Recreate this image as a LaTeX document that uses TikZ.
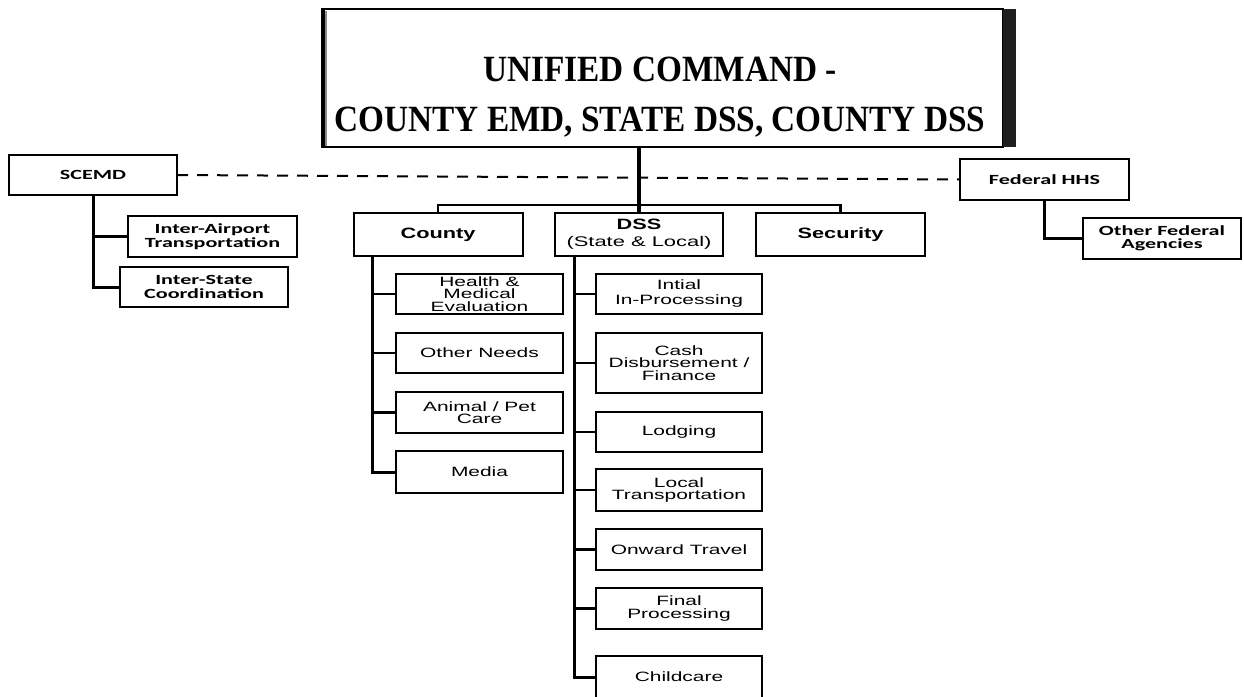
\documentclass[tikz,border=0pt]{standalone}
\usepackage{fontspec}
\usepackage{graphicx}
\setmainfont{Liberation Serif}
\newfontfamily\calfont{Carlito}
\newfontfamily\arialfont{Liberation Sans}
% centred stack of lines with a fixed baseline distance, stretched horizontally
\newcommand\stk[3]{\scalebox{#1}[1]{\vbox{\baselineskip=#2\relax\lineskiplimit=-100pt\relax\halign{\hfil##\hfil\cr#3\crcr}}}}
\begin{document}
\begin{tikzpicture}[x=1pt,y=-1pt,
  box/.style={draw, line width=2pt, rectangle, inner sep=0pt, outer sep=0pt, fill=white},
  agency/.style={box, font=\calfont\bfseries\fontsize{14}{14}\selectfont},
  branch/.style={box, minimum width=169pt, minimum height=43pt, font=\arialfont\bfseries\fontsize{15}{15}\selectfont},
  unit/.style={box, font=\arialfont\fontsize{13.5}{13.5}\selectfont},
  cunit/.style={unit, minimum width=167pt},
  dunit/.style={unit, minimum width=166pt},
  conn/.style={line width=2.4pt},
  spine/.style={line width=3pt},
  liaison/.style={line width=2pt, dash pattern=on 11pt off 9pt}
]
\fill[white] (0,0) rectangle (1244,696);
\useasboundingbox (0,0) rectangle (1244,696);

% unified command box with heavy edges
\node[box, line width=2.5pt, minimum width=681pt, minimum height=138pt] (top) at (662.5,78) {};
\fill[black!88] (1003,9) rectangle (1016,147);
\fill[black] (320.5,9) rectangle (324.5,147);
\fill[black!45] (324.5,10.5) rectangle (327,145.5);
\node[anchor=base, font=\bfseries\fontsize{37}{37}\selectfont] (title) at (660,131)
  {\stk{0.9}{50pt}{UNIFIED COMMAND -\cr COUNTY EMD, STATE DSS, COUNTY DSS}};

% state and federal partners
\node[agency, minimum width=168pt, minimum height=40pt] (scemd) at (93,175) {\stk{1.58}{13.5pt}{SCEMD}};
\node[agency, minimum width=169pt, minimum height=41pt] (airport) at (212.5,236.5) {\stk{1.58}{13.5pt}{Inter-Airport\cr Transportation}};
\node[agency, minimum width=168pt, minimum height=40pt] (interstate) at (204,287) {\stk{1.58}{13.5pt}{Inter-State\cr Coordination}};
\node[agency, minimum width=169pt, minimum height=41pt] (fedhhs) at (1044.5,179.5) {\stk{1.58}{13.5pt}{Federal HHS}};
\node[agency, minimum width=158pt, minimum height=41pt] (otherfed) at (1162,238.5) {\stk{1.58}{13.5pt}{Other Federal\cr Agencies}};

% branches
\node[branch] (county) at (438,234.5) {\stk{1.45}{17pt}{County}};
\node[branch, minimum width=168pt] (dss) at (639,234.5)
  {\stk{1.45}{17pt}{DSS\cr \mdseries\fontsize{14}{14}\selectfont\scalebox{1.08}[1]{(State \& Local)}}};
\node[branch] (security) at (840.5,234.5) {\stk{1.45}{17pt}{Security}};

% county units
\node[cunit, minimum height=40pt] (health) at (479.5,294) {\stk{1.55}{12.3pt}{Health \&\cr Medical\cr Evaluation}};
\node[cunit, minimum height=40pt] (needs) at (479.5,353) {\stk{1.55}{12.3pt}{Other Needs}};
\node[cunit, minimum height=41pt] (animal) at (479.5,412.5) {\stk{1.55}{12.5pt}{Animal / Pet\cr Care}};
\node[cunit, minimum height=42pt] (media) at (479.5,472) {\stk{1.55}{12.5pt}{Media}};

% DSS units
\node[dunit, minimum height=40pt] (initial) at (679,294) {\stk{1.55}{15pt}{Intial\cr In-Processing}};
\node[dunit, minimum height=60pt] (cash) at (679,363) {\stk{1.55}{12.5pt}{Cash\cr Disbursement /\cr Finance}};
\node[dunit, minimum height=40pt] (lodging) at (679,432) {\stk{1.55}{12.5pt}{Lodging}};
\node[dunit, minimum height=42pt] (local) at (679,490) {\stk{1.55}{12.5pt}{Local\cr Transportation}};
\node[dunit, minimum height=41pt] (onward) at (679,549.5) {\stk{1.55}{12.5pt}{Onward Travel}};
\node[dunit, minimum height=41pt] (final) at (679,608.5) {\stk{1.55}{12.5pt}{Final\cr Processing}};
\node[dunit, minimum height=42pt] (childcare) at (679,677) {\stk{1.55}{12.5pt}{Childcare}};

% liaison line between partners
\draw[liaison] (scemd.east) -- (fedhhs.west);

% command trunk and branch bar
\coordinate (bar) at (639,205);
\draw[line width=4pt] (top.south -| dss.north) -- (dss.north);
\draw[conn] (county.north) |- (bar) -| (security.north);

% state partner tree
\draw[spine] (scemd.south) |- (interstate.west);
\draw[conn] (scemd.south |- airport.west) -- (airport.west);

% federal partner tree
\draw[spine] (fedhhs.south) |- (otherfed.west);

% county tree
\coordinate (cspine) at (372,256);
\draw[spine] (cspine) |- (media.west);
\foreach \n in {health,needs,animal}
  \draw[conn] (cspine |- \n.west) -- (\n.west);

% DSS tree
\coordinate (dspine) at (574,256);
\draw[spine] (dspine) |- (childcare.west);
\foreach \n in {initial,cash,lodging,local,onward,final}
  \draw[conn] (dspine |- \n.west) -- (\n.west);
\end{tikzpicture}
\end{document}
